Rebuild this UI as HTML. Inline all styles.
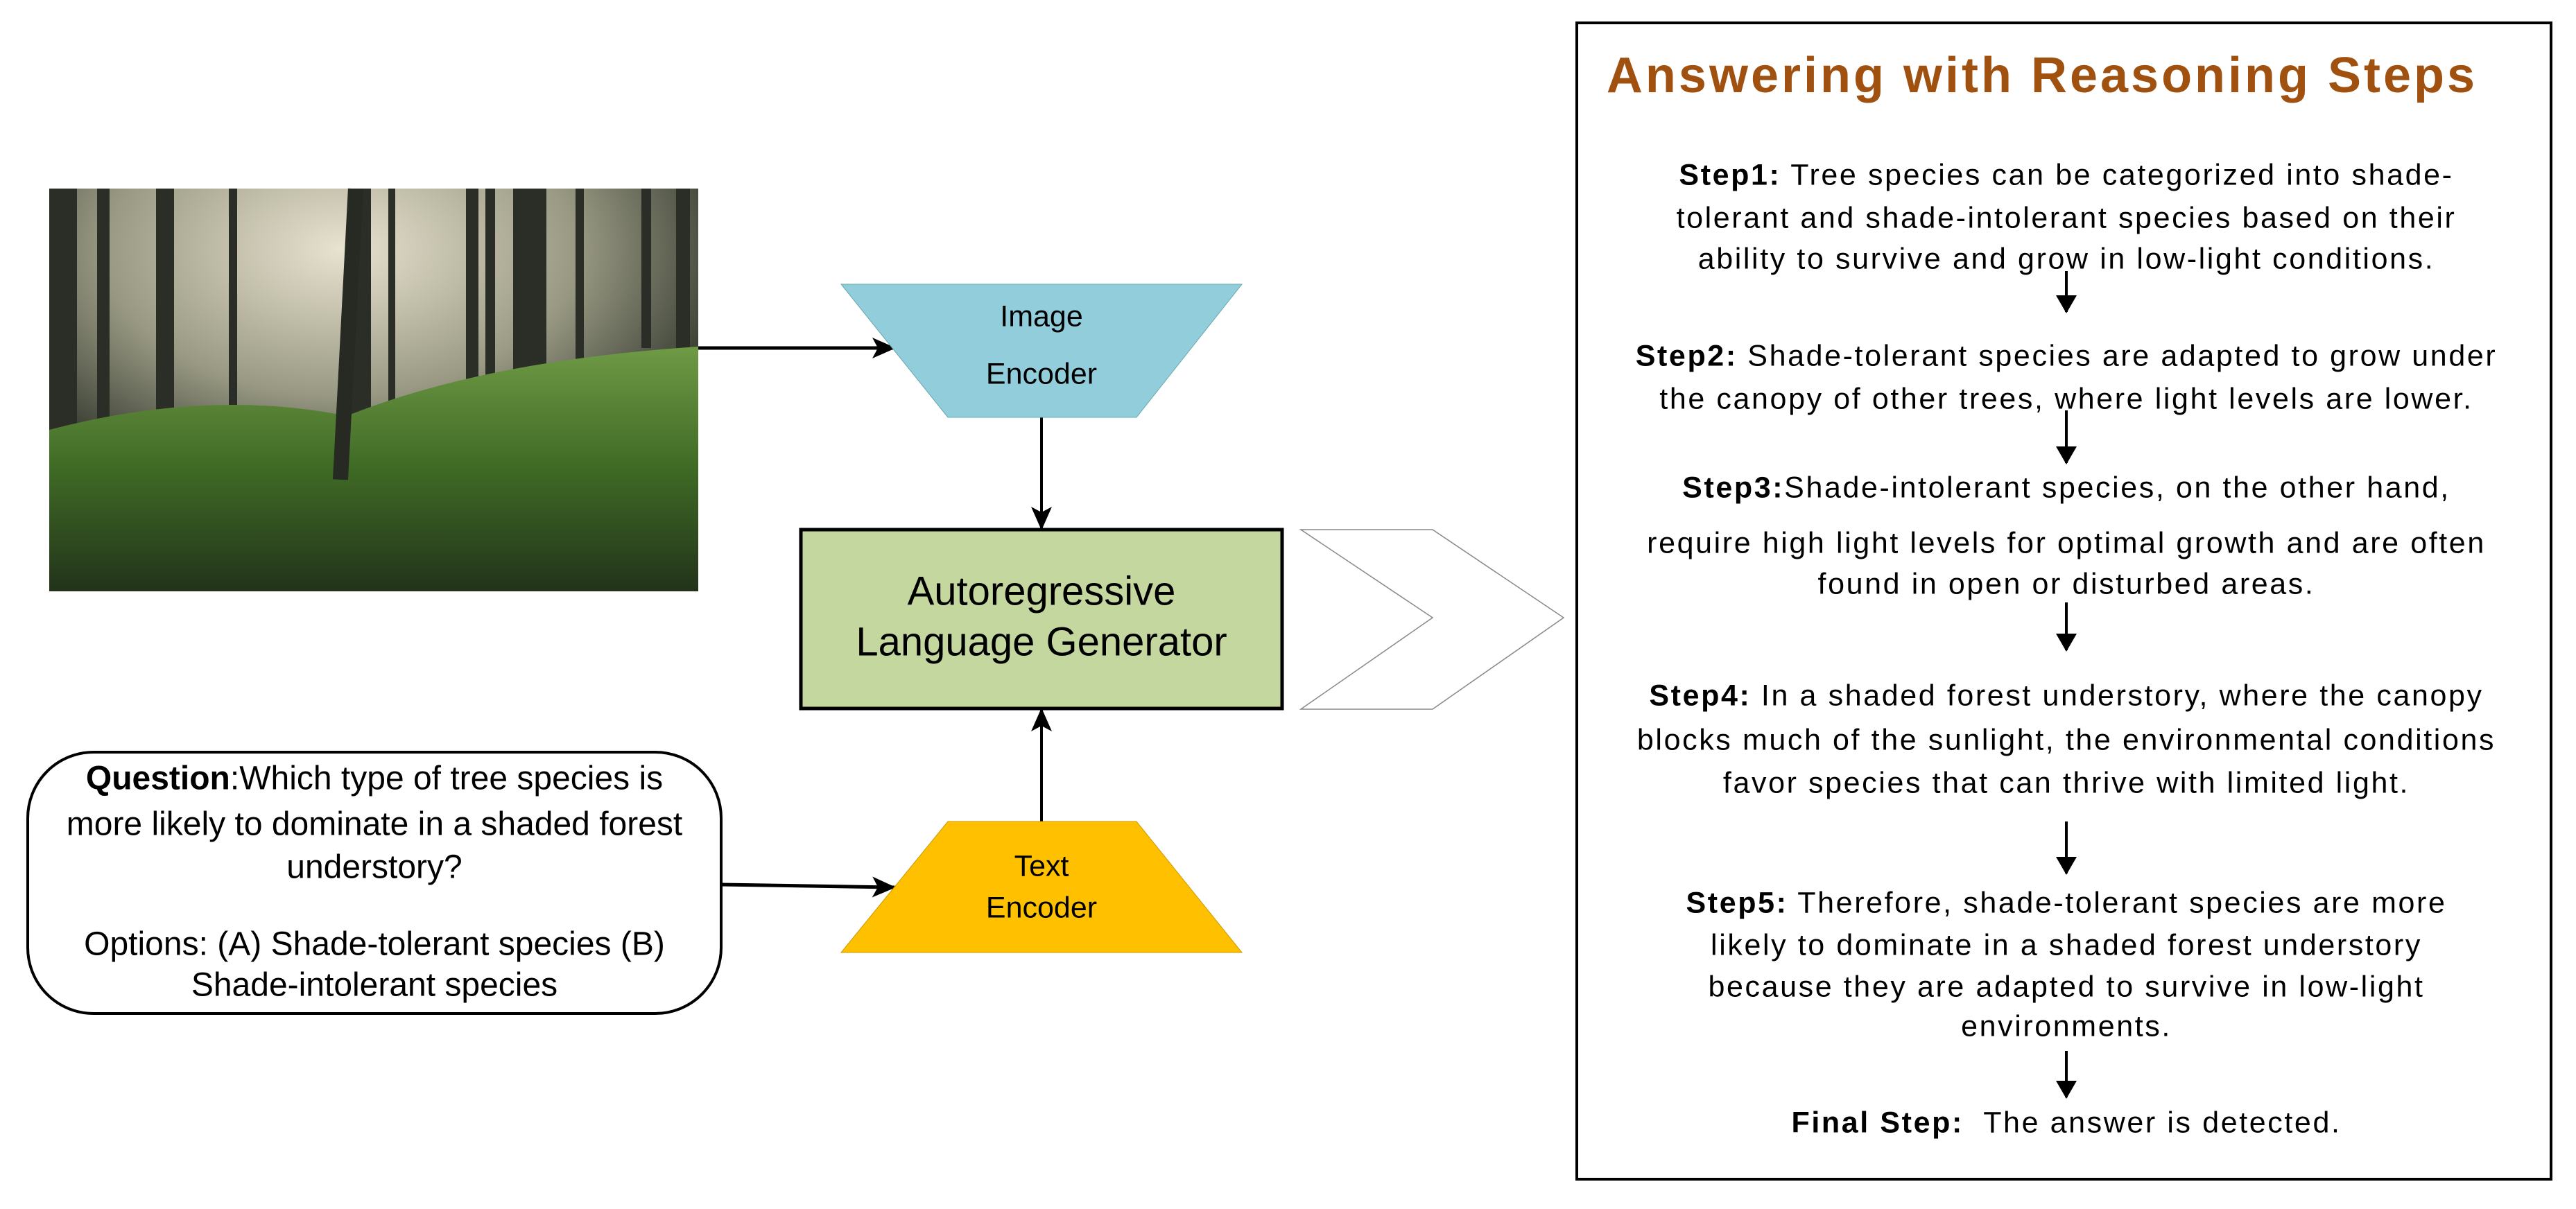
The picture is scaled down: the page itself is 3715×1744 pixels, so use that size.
<!DOCTYPE html>
<html><head><meta charset="utf-8"><style>
body{margin:0;width:3715px;height:1744px;background:#fff;position:relative;overflow:hidden;font-family:"Liberation Sans",Arial,sans-serif}
.t{position:absolute;white-space:nowrap;transform:translate(-50%,-50%);color:#000}
.s{font-size:43px;letter-spacing:2.6px}
.q{font-size:48px}
b{font-weight:bold}
</style></head><body>
<svg width="3715" height="1744" style="position:absolute;left:0;top:0">
<defs>
<radialGradient id="fog" cx="0.45" cy="0.15" r="0.6"><stop offset="0" stop-color="#e8e2d0"/><stop offset="0.6" stop-color="#9a9a84"/><stop offset="1" stop-color="#3d4236"/></radialGradient>
<linearGradient id="grass" x1="0" y1="0" x2="0" y2="1"><stop offset="0" stop-color="#6f9a45"/><stop offset="0.5" stop-color="#3f6a25"/><stop offset="1" stop-color="#22331a"/></linearGradient>
<marker id="ah" markerWidth="34" markerHeight="30" refX="32" refY="15" orient="auto" markerUnits="userSpaceOnUse" viewBox="0 0 34 30"><path d="M0,0 L34,15 L0,30 L8,15 z" fill="#000"/></marker>
<marker id="ah2" markerWidth="26" markerHeight="30" refX="24" refY="15" orient="auto" markerUnits="userSpaceOnUse" viewBox="0 0 26 30"><path d="M0,0 L26,15 L0,30 z" fill="#000"/></marker>
</defs>
<rect x="71" y="272" width="936" height="581" fill="url(#fog)"/>
<g fill="#2a2e26">
<rect x="71" y="272" width="40" height="520"/><rect x="140" y="272" width="18" height="500"/>
<rect x="225" y="272" width="26" height="380"/><rect x="330" y="272" width="12" height="320"/>
<rect x="505" y="272" width="30" height="470"/><rect x="560" y="272" width="10" height="330"/>
<rect x="672" y="272" width="18" height="280"/><rect x="700" y="272" width="14" height="270"/>
<rect x="740" y="272" width="30" height="400"/><rect x="770" y="272" width="18" height="330"/>
<rect x="830" y="272" width="12" height="260"/><rect x="925" y="272" width="14" height="230"/>
<rect x="975" y="272" width="20" height="250"/>
</g>
<path d="M71,620 Q300,560 500,600 Q700,520 1007,500 L1007,853 L71,853 z" fill="url(#grass)"/>
<rect x="490" y="272" width="22" height="420" fill="#262a22" transform="rotate(3 500 500)"/>
<line x1="1007" y1="502" x2="1290" y2="502" stroke="#000" stroke-width="5" marker-end="url(#ah)"/>
<line x1="1502" y1="602" x2="1502" y2="763" stroke="#000" stroke-width="4" marker-end="url(#ah)"/>
<line x1="1502" y1="1185" x2="1502" y2="1023" stroke="#000" stroke-width="4" marker-end="url(#ah)"/>
<line x1="1040" y1="1276" x2="1290" y2="1280" stroke="#000" stroke-width="5" marker-end="url(#ah)"/>
<polygon points="1213,410 1791,410 1639,602 1367,602" fill="#92cddc" stroke="#6aa" stroke-width="1"/>
<polygon points="1367,1185 1639,1185 1791,1374 1213,1374" fill="#ffc000" stroke="#c90" stroke-width="1"/>
<rect x="1155" y="764" width="694" height="258" fill="#c4d79f" stroke="#000" stroke-width="5"/>
<polygon points="1876,764 2066,764 2255,891 2066,1023 1876,1023 2066,891" fill="#fff" stroke="#888" stroke-width="1.5"/>
<rect x="40" y="1085" width="1000" height="377" rx="95" fill="#fff" stroke="#000" stroke-width="4"/>
<rect x="2274" y="33" width="1405" height="1668" fill="none" stroke="#000" stroke-width="4"/>
<g stroke="#000" stroke-width="4">
<line x1="2980" y1="391" x2="2980" y2="450" marker-end="url(#ah2)"/>
<line x1="2980" y1="592" x2="2980" y2="668" marker-end="url(#ah2)"/>
<line x1="2980" y1="869" x2="2980" y2="938" marker-end="url(#ah2)"/>
<line x1="2980" y1="1185" x2="2980" y2="1260" marker-end="url(#ah2)"/>
<line x1="2980" y1="1516" x2="2980" y2="1583" marker-end="url(#ah2)"/>
</g>
</svg>
<div class="t" style="left:1502px;top:457px;font-size:43px">Image</div>
<div class="t" style="left:1502px;top:540px;font-size:43px">Encoder</div>
<div class="t" style="left:1502px;top:853px;font-size:58px">Autoregressive</div>
<div class="t" style="left:1502px;top:926px;font-size:58px">Language Generator</div>
<div class="t" style="left:1502px;top:1250px;font-size:43px">Text</div>
<div class="t" style="left:1502px;top:1310px;font-size:43px">Encoder</div>
<div class="t q" style="left:540px;top:1123px"><b>Question</b>:Which type of tree species is</div>
<div class="t q" style="left:540px;top:1189px">more likely to dominate in a shaded forest</div>
<div class="t q" style="left:540px;top:1251px">understory?</div>
<div class="t q" style="left:540px;top:1362px">Options: (A) Shade-tolerant species (B)</div>
<div class="t q" style="left:540px;top:1421px">Shade-intolerant species</div>
<div class="t" style="left:2945px;top:109px;font-size:72px;font-weight:bold;color:#a0500f;letter-spacing:4px">Answering with Reasoning Steps</div>
<div class="t s" style="left:2980px;top:253px"><b>Step1:</b> Tree species can be categorized into shade-</div>
<div class="t s" style="left:2980px;top:315px">tolerant and shade-intolerant species based on their</div>
<div class="t s" style="left:2980px;top:374px">ability to survive and grow in low-light conditions.</div>
<div class="t s" style="left:2980px;top:514px"><b>Step2:</b> Shade-tolerant species are adapted to grow under</div>
<div class="t s" style="left:2980px;top:576px">the canopy of other trees, where light levels are lower.</div>
<div class="t s" style="left:2980px;top:704px"><b>Step3:</b>Shade-intolerant species, on the other hand,</div>
<div class="t s" style="left:2980px;top:784px">require high light levels for optimal growth and are often</div>
<div class="t s" style="left:2980px;top:843px">found in open or disturbed areas.</div>
<div class="t s" style="left:2980px;top:1004px"><b>Step4:</b> In a shaded forest understory, where the canopy</div>
<div class="t s" style="left:2980px;top:1068px">blocks much of the sunlight, the environmental conditions</div>
<div class="t s" style="left:2980px;top:1130px">favor species that can thrive with limited light.</div>
<div class="t s" style="left:2980px;top:1303px"><b>Step5:</b> Therefore, shade-tolerant species are more</div>
<div class="t s" style="left:2980px;top:1364px">likely to dominate in a shaded forest understory</div>
<div class="t s" style="left:2980px;top:1424px">because they are adapted to survive in low-light</div>
<div class="t s" style="left:2980px;top:1481px">environments.</div>
<div class="t s" style="left:2980px;top:1620px"><b>Final Step:</b>&nbsp; The answer is detected.</div>
</body></html>
